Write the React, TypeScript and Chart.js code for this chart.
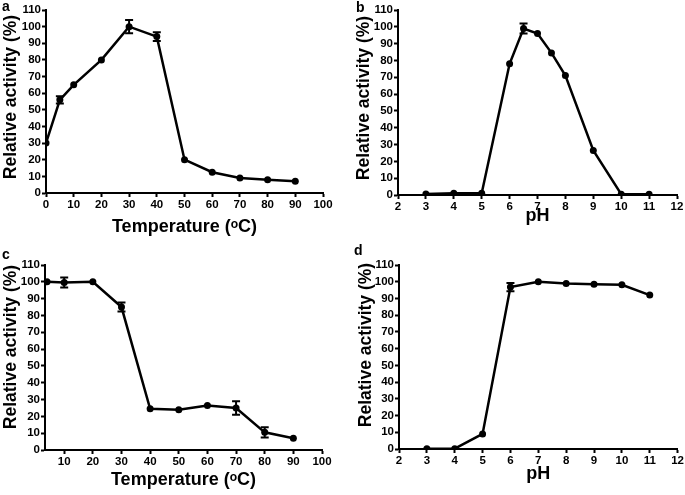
import React, { useEffect, useRef } from "react";
import { Chart, registerables } from "chart.js";

Chart.register(...registerables);

// ---- data ----
const tempA = [0, 5, 10, 20, 30, 40, 50, 60, 70, 80, 90];
const activityA = [30, 56, 65, 80, 100, 94, 20, 12.5, 9, 8, 7];
const errA = [0, 2.2, 0, 0, 4, 2.7, 0, 0, 0, 0, 0];

const phB = [3, 4, 5, 6, 6.5, 7, 7.5, 8, 9, 10, 11];
const activityB = [0.6, 1, 1, 78, 99, 96, 84.5, 71, 26.5, 0.5, 0.4];
const errB = [0, 0, 0, 0, 3, 0, 0, 0, 0, 0, 0];

const tempC = [4, 10, 20, 30, 40, 50, 60, 70, 80, 90];
const activityC = [100, 99.6, 100, 85, 24.5, 24, 26.5, 25, 10.5, 7];
const errC = [0, 3, 0, 2.7, 0, 0, 0, 4, 3, 0];

const phD = [3, 4, 5, 6, 7, 8, 9, 10, 11];
const activityD = [0.2, 0.2, 9, 96.8, 100, 99, 98.5, 98.2, 92];
const errD = [0, 0, 0, 2.5, 0, 0, 0, 0, 0];

const yTicks = [0, 10, 20, 30, 40, 50, 60, 70, 80, 90, 100, 110];
const tempTicksA = [0, 10, 20, 30, 40, 50, 60, 70, 80, 90, 100];
const tempTicksC = [10, 20, 30, 40, 50, 60, 70, 80, 90, 100];
const phTicks = [2, 3, 4, 5, 6, 7, 8, 9, 10, 11, 12];

const yTitle = "Relative activity (%)";
const tempTitle = "Temperature (\u1D52C)";
const phTitle = "pH";

const FONT = "'Liberation Sans', Arial, Helvetica, sans-serif";
const Y_TITLE_SIZE = 17.5;
const X_TITLE_SIZE = 18;
const TICK_SIZE = 11.5;

type PanelCfg = {
  key: string;
  letter: string;
  left: number;
  top: number;
  w: number;
  h: number;
  area: { l: number; t: number; r: number; b: number };
  xs: number[];
  ys: number[];
  errs: number[];
  xMin: number;
  xMax: number;
  xTicks: number[];
  xTitle: string;
  yTitlePos: { x: number; y: number };
  xTitleY: number;
  letterPos: { x: number; y: number };
};

const panels: PanelCfg[] = [
  {
    key: "a", letter: "a", left: 0, top: 0, w: 342, h: 248,
    area: { l: 46, t: 10, r: 323, b: 193 },
    xs: tempA, ys: activityA, errs: errA, xMin: 0, xMax: 100, xTicks: tempTicksA,
    xTitle: tempTitle, yTitlePos: { x: 11, y: 97 }, xTitleY: 227, letterPos: { x: 2, y: -2 },
  },
  {
    key: "b", letter: "b", left: 342, top: 0, w: 343, h: 248,
    area: { l: 56, t: 10, r: 335, b: 195 },
    xs: phB, ys: activityB, errs: errB, xMin: 2, xMax: 12, xTicks: phTicks,
    xTitle: phTitle, yTitlePos: { x: 22, y: 98 }, xTitleY: 216, letterPos: { x: 14, y: -1 },
  },
  {
    key: "c", letter: "c", left: 0, top: 248, w: 342, h: 247,
    area: { l: 45, t: 17, r: 322, b: 202 },
    xs: tempC, ys: activityC, errs: errC, xMin: 3.3, xMax: 100, xTicks: tempTicksC,
    xTitle: tempTitle, yTitlePos: { x: 11, y: 99 }, xTitleY: 232, letterPos: { x: 2, y: -2 },
  },
  {
    key: "d", letter: "d", left: 342, top: 248, w: 343, h: 247,
    area: { l: 57, t: 17, r: 336, b: 201 },
    xs: phD, ys: activityD, errs: errD, xMin: 2, xMax: 12, xTicks: phTicks,
    xTitle: phTitle, yTitlePos: { x: 24, y: 97 }, xTitleY: 226, letterPos: { x: 12, y: -6 },
  },
];

const errorBarPlugin = {
  id: "errorBars",
  afterDatasetsDraw(chart: any, _args: any, opts: any) {
    const errs: number[] = opts.errs || [];
    const ds = chart.data.datasets[0];
    const xs = chart.scales.x;
    const ys = chart.scales.y;
    const ctx = chart.ctx;
    ctx.save();
    ctx.strokeStyle = "#000";
    ctx.lineWidth = 2;
    ds.data.forEach((p: any, i: number) => {
      const e = errs[i];
      if (!e) return;
      const px = xs.getPixelForValue(p.x);
      const yTop = ys.getPixelForValue(p.y + e);
      const yBot = ys.getPixelForValue(p.y - e);
      ctx.beginPath();
      ctx.moveTo(px, yTop);
      ctx.lineTo(px, yBot);
      ctx.moveTo(px - 4, yTop);
      ctx.lineTo(px + 4, yTop);
      ctx.moveTo(px - 4, yBot);
      ctx.lineTo(px + 4, yBot);
      ctx.stroke();
    });
    ctx.restore();
  },
};

const yTitlePlugin = {
  id: "yTitle",
  afterDraw(chart: any, _args: any, opts: any) {
    if (!opts || !opts.text) return;
    const ctx = chart.ctx;
    ctx.save();
    ctx.translate(opts.x, opts.y);
    ctx.rotate(-Math.PI / 2);
    ctx.fillStyle = "#000";
    ctx.font = `bold ${Y_TITLE_SIZE}px ${FONT}`;
    ctx.textAlign = "center";
    ctx.textBaseline = "middle";
    ctx.fillText(opts.text, 0, 0);
    ctx.restore();
  },
};

function Panel({ cfg }: { cfg: PanelCfg }) {
  const ref = useRef<HTMLCanvasElement | null>(null);
  useEffect(() => {
    if (!ref.current) return;
    const { area, w, h } = cfg;
    const xLH = X_TITLE_SIZE * 1.2;
    const chart = new Chart(ref.current, {
      type: "scatter",
      data: {
        datasets: [
          {
            data: cfg.xs.map((x, i) => ({ x, y: cfg.ys[i] })),
            showLine: true,
            borderColor: "#000",
            backgroundColor: "#000",
            borderWidth: 2.5,
            pointRadius: 3.5,
            pointBackgroundColor: "#000",
            pointBorderColor: "#000",
            pointBorderWidth: 0,
          },
        ],
      },
      options: {
        responsive: false,
        animation: false,
        layout: { padding: { left: 0, top: area.t, right: w - area.r, bottom: 0 } },
        plugins: {
          legend: { display: false },
          tooltip: { enabled: false },
          errorBars: { errs: cfg.errs },
          yTitle: { text: yTitle, x: cfg.yTitlePos.x, y: cfg.yTitlePos.y },
        } as any,
        scales: {
          x: {
            type: "linear",
            min: cfg.xMin,
            max: cfg.xMax,
            afterBuildTicks: (s: any) => {
              s.ticks = cfg.xTicks.map((v) => ({ value: v }));
            },
            afterFit: (s: any) => {
              s.height = h - area.b;
            },
            border: { display: true, color: "#000", width: 2 },
            grid: {
              display: true,
              drawOnChartArea: false,
              drawTicks: true,
              tickLength: 4,
              tickWidth: 2,
              tickColor: "#000",
              color: "#000",
            },
            ticks: {
              color: "#000",
              padding: 1,
              maxRotation: 0,
              autoSkip: false,
              font: { family: FONT, size: TICK_SIZE, weight: "bold" },
            },
            title: {
              display: true,
              text: cfg.xTitle,
              color: "#000",
              font: { family: FONT, size: X_TITLE_SIZE, weight: "bold" },
              padding: { top: 0, bottom: h - cfg.xTitleY - xLH / 2 },
            },
          },
          y: {
            type: "linear",
            min: 0,
            max: 110,
            afterBuildTicks: (s: any) => {
              s.ticks = yTicks.map((v) => ({ value: v }));
            },
            afterFit: (s: any) => {
              s.width = area.l;
            },
            border: { display: true, color: "#000", width: 2 },
            grid: {
              display: true,
              drawOnChartArea: false,
              drawTicks: true,
              tickLength: 4,
              tickWidth: 2,
              tickColor: "#000",
              color: "#000",
            },
            ticks: {
              color: "#000",
              padding: 1,
              autoSkip: false,
              font: { family: FONT, size: TICK_SIZE, weight: "bold" },
            },
            title: { display: false },
          },
        },
      } as any,
      plugins: [errorBarPlugin, yTitlePlugin],
    });
    return () => chart.destroy();
  }, [cfg]);

  return (
    <div
      style={{
        position: "absolute",
        left: cfg.left,
        top: cfg.top,
        width: cfg.w,
        height: cfg.h,
      }}
    >
      <canvas ref={ref} width={cfg.w} height={cfg.h} style={{ width: cfg.w, height: cfg.h, display: "block" }} />
      <span
        style={{
          position: "absolute",
          left: cfg.letterPos.x,
          top: cfg.letterPos.y,
          fontFamily: FONT,
          fontWeight: "bold",
          fontSize: 14,
          color: "#000",
          lineHeight: "16px",
        }}
      >
        {cfg.letter}
      </span>
    </div>
  );
}

export default function App() {
  return (
    <div
      style={{
        position: "absolute",
        left: 0,
        top: 0,
        width: 685,
        height: 495,
        background: "#fff",
        overflow: "hidden",
      }}
    >
      {panels.map((p) => (
        <Panel key={p.key} cfg={p} />
      ))}
    </div>
  );
}
